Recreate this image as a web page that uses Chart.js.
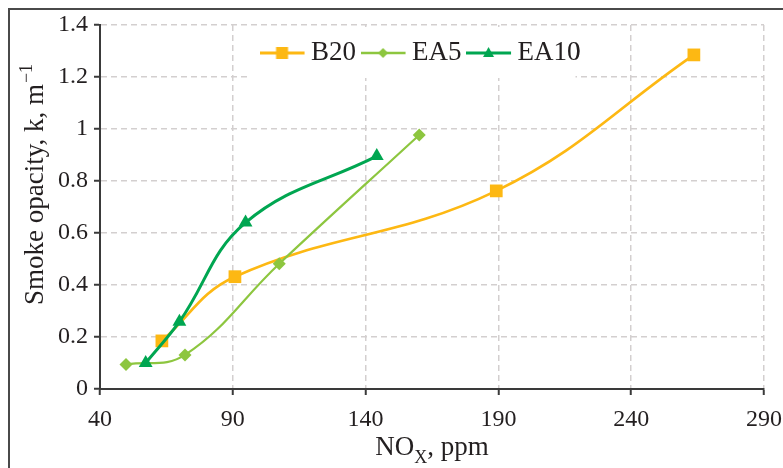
<!DOCTYPE html>
<html>
<head>
<meta charset="utf-8">
<script src="https://cdn.jsdelivr.net/npm/chart.js@4.4.0/dist/chart.umd.min.js"></script>
<style>
  html, body { margin: 0; padding: 0; background: #fff; }
</style>
</head>
<body>
<canvas id="myChart" width="783" height="468"></canvas>
<script>
// values
const seriesNames = ['B20', 'EA5', 'EA10'];
const b20X = [63.3, 90.8, 189.2, 263.6];
const b20Y = [0.185, 0.432, 0.762, 1.285];
const ea5X = [49.8, 72.0, 107.5, 160.2];
const ea5Y = [0.094, 0.131, 0.482, 0.977];
const ea10X = [57.2, 69.9, 94.8, 144.2];
const ea10Y = [0.100, 0.259, 0.640, 0.896];
const xTicks = [40, 90, 140, 190, 240, 290];
const yTicks = [0, 0.2, 0.4, 0.6, 0.8, 1, 1.2, 1.4];

const colors = ['#fdb813', '#8dc63f', '#00a651'];
const serif = "'Liberation Serif', 'DejaVu Serif', serif";
const axisColor = '#3a3a3a';

function toPoints(xs, ys) {
  return xs.map((x, i) => ({x: x, y: ys[i]}));
}

// legend icon: a short line with the marker in the middle
function legendIcon(color, shape, lw) {
  const c = document.createElement('canvas');
  c.width = 48; c.height = 20;
  const g = c.getContext('2d');
  g.strokeStyle = color;
  g.fillStyle = color;
  g.lineWidth = lw;
  g.beginPath(); g.moveTo(0, 10); g.lineTo(45, 10); g.stroke();
  const cx = 22.5, cy = 10;
  g.beginPath();
  if (shape === 'rect') {
    g.rect(cx - 6, cy - 6, 12, 12);
  } else if (shape === 'rectRot') {
    g.moveTo(cx, cy - 5); g.lineTo(cx + 5, cy); g.lineTo(cx, cy + 5); g.lineTo(cx - 5, cy);
  } else {
    g.moveTo(cx, cy - 6); g.lineTo(cx + 5.5, cy + 4); g.lineTo(cx - 5.5, cy + 4);
  }
  g.closePath();
  g.fill();
  return c;
}
const icons = [
  legendIcon(colors[0], 'rect', 3),
  legendIcon(colors[1], 'rectRot', 2.5),
  legendIcon(colors[2], 'triangle', 3)
];

const framePlugin = {
  id: 'frame',
  beforeLayout(chart) {
    // legend sits inside the plot, so it must not take any room in the layout
    const l = chart.legend;
    if (l && !l._patched) {
      const fit = l.fit.bind(l);
      l.fit = function () {
        fit();
        this._realHeight = this.height;
        this.height = 0;
      };
      l._patched = true;
    }
  },
  afterLayout(chart) {
    const l = chart.legend;
    if (l && l._realHeight) {
      l.height = l._realHeight;
      l.bottom = l.top + l.height;
      // center it over the plot area instead of the whole canvas
      l.left = chart.chartArea.left - 27;
      l.right = chart.chartArea.right + 13;
    }
  },
  beforeDraw(chart) {
    const ctx = chart.ctx;
    ctx.save();
    ctx.fillStyle = '#fff';
    ctx.fillRect(0, 0, chart.width, chart.height);
    ctx.strokeStyle = '#4a4a4a';
    ctx.lineWidth = 2;
    ctx.strokeRect(9, 9, 900, 600);
    ctx.restore();
  },
  beforeDatasetsDraw(chart) {
    // white box behind the legend, hiding the grid there
    const l = chart.legend;
    const hb = l.legendHitBoxes;
    if (!hb || !hb.length) return;
    const ctx = chart.ctx;
    const a = chart.chartArea;
    const left = hb[0].left - 22;
    const right = hb[hb.length - 1].left + hb[hb.length - 1].width - 5;
    ctx.save();
    ctx.fillStyle = '#fff';
    ctx.fillRect(left, a.top + 2, right - left, 51);
    ctx.restore();
    l.draw();
  },
  afterDraw(chart) {
    const ctx = chart.ctx;
    const a = chart.chartArea;
    ctx.save();
    ctx.fillStyle = '#231f20';
    ctx.textBaseline = 'alphabetic';
    ctx.textAlign = 'left';

    // x axis title: NO_X, ppm
    const big = '27px ' + serif, small = '18px ' + serif;
    ctx.font = big;
    const wNO = ctx.measureText('NO').width;
    const wRest = ctx.measureText(', ppm').width;
    ctx.font = small;
    const wX = ctx.measureText('X').width;
    let x = (a.left + a.right) / 2 - (wNO + wX + wRest) / 2;
    const base = 455;
    ctx.font = big; ctx.fillText('NO', x, base); x += wNO;
    ctx.font = small; ctx.fillText('X', x, base + 8); x += wX;
    ctx.font = big; ctx.fillText(', ppm', x, base);

    // y axis title: Smoke opacity, k, m^-1
    ctx.translate(43, 305);
    ctx.rotate(-Math.PI / 2);
    ctx.font = big;
    const t = 'Smoke opacity, k, m';
    ctx.fillText(t, 0, 0);
    const w = ctx.measureText(t).width;
    ctx.font = small;
    ctx.fillText('\u22121', w + 1, -11);
    ctx.restore();
  }
};

const gridOpts = {
  color: '#d3cfcf',
  lineWidth: 1.5,
  tickLength: 6,
  tickColor: axisColor,
  tickWidth: 2,
  tickBorderDash: []
};

const ctx = document.getElementById('myChart').getContext('2d');
const myChart = new Chart(ctx, {
  type: 'scatter',
  data: {
    datasets: [{
      label: seriesNames[0],
      data: toPoints(b20X, b20Y),
      borderColor: colors[0],
      backgroundColor: colors[0],
      borderWidth: 2.7,
      pointStyle: 'rect',
      pointRadius: 9,
      pointBorderWidth: 0,
      order: 3
    }, {
      label: seriesNames[1],
      data: toPoints(ea5X, ea5Y),
      borderColor: colors[1],
      backgroundColor: colors[1],
      borderWidth: 2.2,
      pointStyle: 'rectRot',
      pointRadius: 6.5,
      pointBorderWidth: 0,
      order: 2
    }, {
      label: seriesNames[2],
      data: toPoints(ea10X, ea10Y),
      borderColor: colors[2],
      backgroundColor: colors[2],
      borderWidth: 3,
      pointStyle: 'triangle',
      pointRadius: 8,
      pointBorderWidth: 0,
      order: 1
    }]
  },
  options: {
    responsive: false,
    devicePixelRatio: 1,
    animation: false,
    showLine: true,
    elements: {
      line: { tension: 0.4, fill: false }
    },
    layout: {
      padding: { left: 0, right: 19, top: 25, bottom: 0 }
    },
    plugins: {
      tooltip: { enabled: false },
      legend: {
        position: 'top',
        align: 'center',
        labels: {
          usePointStyle: true,
          pointStyleWidth: 28,
          padding: 14.5,
          color: '#231f20',
          font: { family: serif, size: 27 },
          generateLabels: chart => chart.data.datasets.map((ds, i) => ({
            text: ds.label,
            pointStyle: icons[i],
            datasetIndex: i,
            fontColor: '#231f20',
            fillStyle: 'transparent',
            strokeStyle: 'transparent',
            lineWidth: 0,
            hidden: false
          }))
        }
      }
    },
    scales: {
      x: {
        type: 'linear',
        min: 40,
        max: 290,
        afterBuildTicks: s => { s.ticks = xTicks.map(v => ({value: v})); },
        afterFit: s => { s.height = 79; s.paddingLeft = 0; s.paddingRight = 19; },
        ticks: {
          color: '#231f20',
          padding: 10,
          maxRotation: 0,
          font: { family: serif, size: 24 },
          callback: v => String(v)
        },
        grid: gridOpts,
        border: { color: axisColor, width: 2, dash: [6, 4] }
      },
      y: {
        type: 'linear',
        min: 0,
        max: 1.4,
        afterBuildTicks: s => { s.ticks = yTicks.map(v => ({value: v})); },
        afterFit: s => { s.width = 100; s.paddingTop = 0; s.paddingBottom = 0; },
        ticks: {
          color: '#231f20',
          padding: 6,
          font: { family: serif, size: 24 },
          callback: v => String(Math.round(v * 10) / 10)
        },
        grid: gridOpts,
        border: { color: axisColor, width: 2, dash: [6, 4] }
      }
    }
  },
  plugins: [framePlugin]
});
</script>
</body>
</html>
